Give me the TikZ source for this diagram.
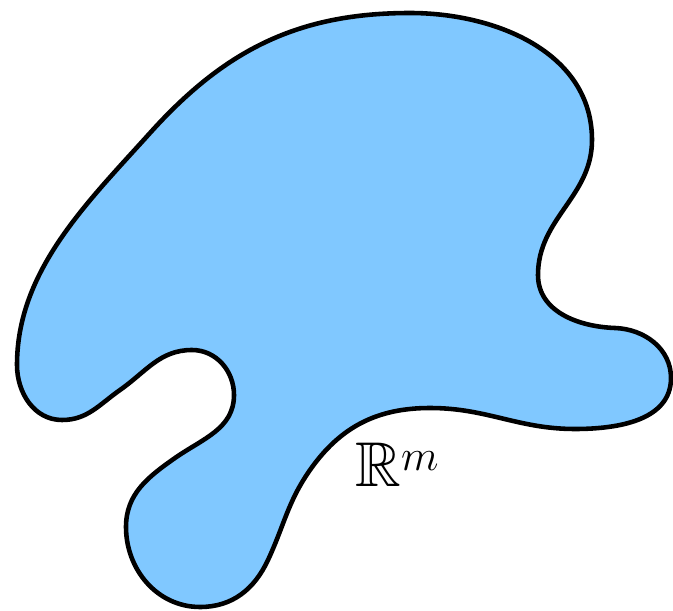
\documentclass[tikz,border=0pt]{standalone}
\usepackage{amsmath,amssymb}
\usepackage{xcolor}
\usetikzlibrary{positioning}
\definecolor{blobblue}{RGB}{128,200,255}

\begin{document}
\begin{tikzpicture}[
  x=0.02cm,y=0.02cm,
  blob/.style={draw=black,fill=blobblue,line width=2.6pt,line join=round},
  spacelabel/.style={inner sep=0pt,font=\fontsize{36}{43}\selectfont}
]
  \useasboundingbox (0,0) rectangle (673,-611);
  % outline, clockwise from the top
  \draw[blob] (410,-13)
    to[out=0,in=90] (592,-140)
    to[out=-90,in=90] (538,-275)
    to[out=-90,in=178] (615,-328)
    to[out=-2,in=90] (671,-378)
    to[out=-90,in=0] (575,-429)
    to[out=180,in=0] (430,-408)
    to[out=180,in=55] (310,-470)
    to[out=-125,in=65] (268,-560)
    to[out=-115,in=0] (200,-607)
    to[out=180,in=-90] (126,-527)
    to[out=90,in=-145] (175,-458)
    to[out=35,in=-90] (234,-395)
    to[out=90,in=0] (192,-350)
    to[out=180,in=35] (120,-390)
    to[out=-145,in=0] (62,-420)
    to[out=180,in=-90] (17,-365)
    to[out=90,in=-132,looseness=0.9] (150,-133)
    to[out=48,in=180] cycle;
  \node[spacelabel,anchor=base west] (rm) at (355,-486) {$\mathbb{R}^m$};
\end{tikzpicture}
\end{document}
